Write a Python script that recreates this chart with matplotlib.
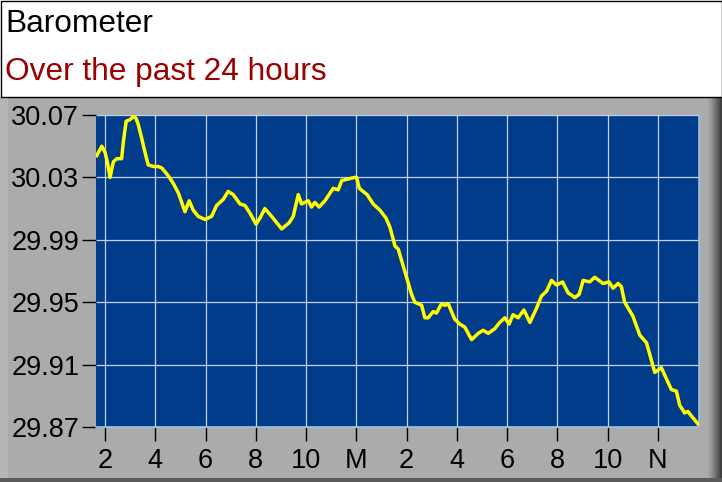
import matplotlib.pyplot as plt
from matplotlib.patches import Rectangle

# hours since midnight of the first day (14 = 2 PM, 24 = midnight, 36 = noon)
hours = [13.67, 13.87, 14.00, 14.09, 14.20, 14.33, 14.47, 14.66, 14.73, 14.84,
         14.99, 15.13, 15.23, 15.32, 15.46, 15.59, 15.72, 15.92, 16.12, 16.26,
         16.52, 16.72, 16.92, 17.18, 17.35, 17.51, 17.71, 17.98, 18.24, 18.44,
         18.71, 18.90, 19.10, 19.37, 19.57, 19.77, 20.01, 20.17, 20.36, 20.63,
         21.03, 21.33, 21.49, 21.69, 21.82, 22.09, 22.22, 22.35, 22.52, 22.75,
         23.08, 23.28, 23.42, 23.68, 23.94, 24.01, 24.12, 24.27, 24.43, 24.67,
         24.94, 25.18, 25.34, 25.54, 25.67, 26.00, 26.20, 26.33, 26.60, 26.73,
         26.86, 27.06, 27.19, 27.39, 27.52, 27.66, 27.92, 28.12, 28.32, 28.59,
         28.85, 29.05, 29.25, 29.51, 29.71, 29.91, 30.08, 30.24, 30.44, 30.67,
         30.91, 31.17, 31.37, 31.57, 31.77, 31.97, 32.21, 32.43, 32.70, 32.87,
         33.03, 33.29, 33.49, 33.82, 34.06, 34.22, 34.42, 34.55, 34.68, 35.01,
         35.28, 35.55, 35.88, 36.14, 36.34, 36.54, 36.74, 36.87, 37.07, 37.20,
         37.34, 37.60]
# barometer in inHg
pressure = [30.044, 30.050, 30.046, 30.040, 30.030, 30.040, 30.042, 30.042, 30.053, 30.066,
            30.067, 30.069, 30.068, 30.064, 30.055, 30.046, 30.038, 30.037, 30.037, 30.036,
            30.031, 30.026, 30.020, 30.008, 30.015, 30.009, 30.005, 30.003, 30.005, 30.012,
            30.016, 30.021, 30.019, 30.013, 30.012, 30.007, 30.000, 30.004, 30.010, 30.005,
            29.997, 30.001, 30.005, 30.019, 30.013, 30.015, 30.011, 30.014, 30.011, 30.015,
            30.023, 30.022, 30.028, 30.029, 30.030, 30.030, 30.023, 30.021, 30.019, 30.013,
            30.009, 30.004, 29.998, 29.986, 29.984, 29.966, 29.955, 29.950, 29.948, 29.940,
            29.940, 29.944, 29.943, 29.949, 29.948, 29.949, 29.939, 29.936, 29.934, 29.926,
            29.930, 29.932, 29.930, 29.933, 29.937, 29.940, 29.936, 29.942, 29.940, 29.945,
            29.937, 29.946, 29.954, 29.957, 29.964, 29.961, 29.963, 29.956, 29.953, 29.955,
            29.964, 29.963, 29.966, 29.962, 29.963, 29.959, 29.962, 29.960, 29.950, 29.941,
            29.929, 29.924, 29.905, 29.908, 29.901, 29.894, 29.893, 29.884, 29.879, 29.880,
            29.877, 29.872]

x_ticks = [14, 16, 18, 20, 22, 24, 26, 28, 30, 32, 34, 36]
x_labels = ['2', '4', '6', '8', '10', 'M', '2', '4', '6', '8', '10', 'N']
y_ticks = [29.87, 29.91, 29.95, 29.99, 30.03, 30.07]

title = 'Barometer'
subtitle = 'Over the past 24 hours'

plt.rcParams['font.family'] = ['Liberation Sans', 'DejaVu Sans']

fig = plt.figure(figsize=(7.22, 4.82), dpi=100)
fig.patch.set_facecolor('white')

# gray panel under the header, with a bit of 3D shading on the edges
H = 482.0
W = 722.0
def panel(x0, y0, w, h, color, **kw):
    fig.patches.append(Rectangle((x0 / W, y0 / H), w / W, h / H, transform=fig.transFigure,
                                 facecolor=color, edgecolor='none', zorder=-5, **kw))

panel(0, 0, W, H - 97, '#ababab')
panel(0, 0, 8, H - 97, '#b6b6b6')
shades = ['#a2a2a2', '#969696', '#888888', '#777777', '#656565', '#525252', '#404040']
for k, c in enumerate(shades):
    panel(708 + 2 * k, 0, 2, H - 97, c)
panel(0, 0, W, 4, '#5a5a5a')
# thin black border round the header
fig.patches.append(Rectangle((0.5 / W, 1 - 97 / H), 1 - 1 / W, 97 / H - 0.5 / H,
                             transform=fig.transFigure, facecolor='none',
                             edgecolor='black', linewidth=1.0, zorder=-4))

fig.text(5 / W, 1 - 32 / H, title, fontsize=22.8, color='black', ha='left', va='baseline')
fig.text(5 / W, 1 - 80 / H, subtitle, fontsize=22.8, color='#990000', ha='left', va='baseline')

ax = fig.add_axes([96 / W, 1 - 427 / H, (699 - 96) / W, (427 - 115) / H])
ax.set_zorder(2)
ax.set_facecolor('#003c8a')

ax.plot(hours, pressure, color='#ffff00', linewidth=2.5, zorder=3)

ax.set_xlim(13.64, 37.64)
ax.set_ylim(29.87, 30.07)
ax.set_xticks(x_ticks)
ax.set_xticklabels(x_labels)
ax.set_yticks(y_ticks)
ax.set_yticklabels(['%.2f' % v for v in y_ticks])
ax.grid(True, color='#c4d4ee', linewidth=0.9, zorder=1)

ax.tick_params(axis='both', direction='out', length=10, width=1, color='black',
               labelsize=19.5, labelcolor='black')
ax.tick_params(axis='y', pad=2)
ax.tick_params(axis='x', pad=5)

for side in ['left', 'top']:
    ax.spines[side].set_visible(False)
for side in ['right', 'bottom']:
    ax.spines[side].set_color('#9fbfe8')
    ax.spines[side].set_linewidth(1.2)

fig.savefig('out.png', dpi=100, facecolor=fig.get_facecolor())
